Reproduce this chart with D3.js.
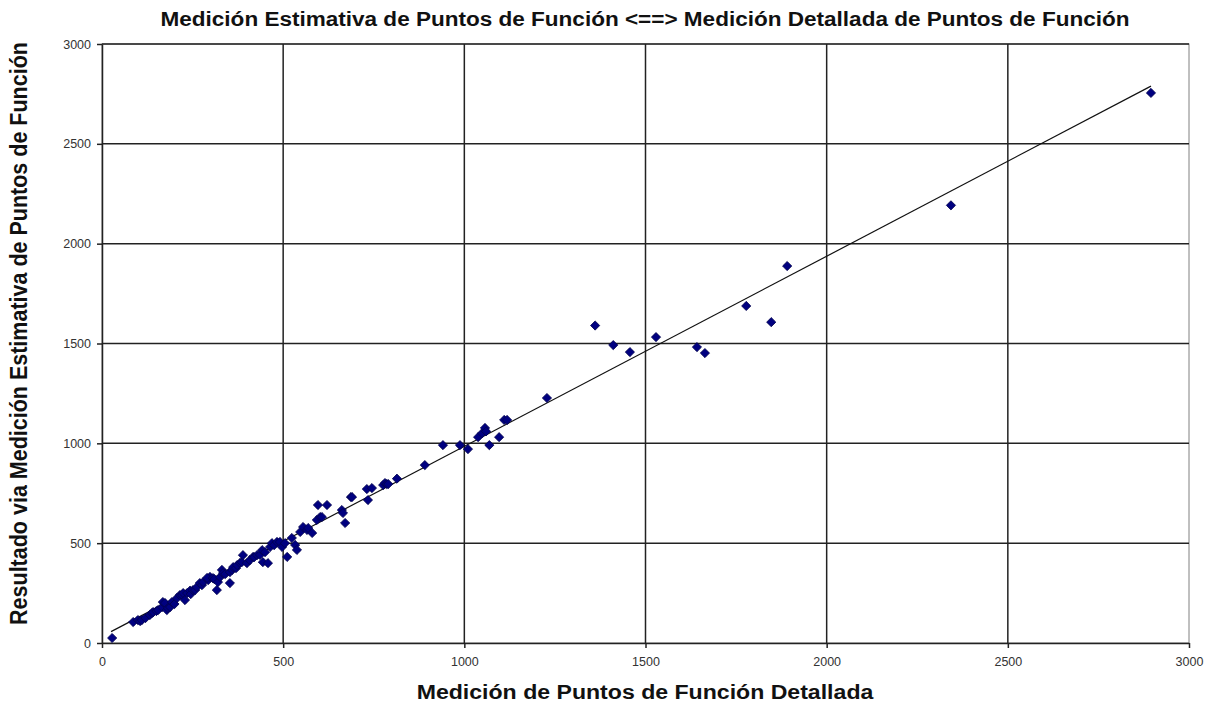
<!DOCTYPE html>
<html><head><meta charset="utf-8">
<script src="https://cdn.jsdelivr.net/npm/d3@7"></script>
<style>body{margin:0;background:#fff}svg{display:block}</style>
</head><body>
<script>
const titleText = "Medición Estimativa de Puntos de Función <==> Medición Detallada de Puntos de Función";
const xTitle = "Medición de Puntos de Función Detallada";
const yTitle = "Resultado via Medición Estimativa de Puntos de Función";
const xTicks = [0, 500, 1000, 1500, 2000, 2500, 3000];
const yTicks = [0, 500, 1000, 1500, 2000, 2500, 3000];
const detailed = [28, 86, 99, 105, 110, 120, 132, 138, 141, 150, 155, 166, 168, 174, 179, 182, 188, 193, 200, 207, 215, 221, 224, 229, 235, 243, 245, 251, 257, 262, 270, 276, 279, 293, 298, 290, 306, 310, 317, 320, 326, 331, 334, 340, 353, 353, 359, 362, 370, 373, 381, 386, 389, 400, 408, 417, 420, 428, 436, 442, 444, 450, 458, 464, 469, 475, 483, 491, 497, 505, 511, 524, 533, 538, 547, 555, 566, 569, 580, 593, 596, 602, 607, 621, 662, 665, 671, 687, 690, 731, 734, 745, 776, 781, 786, 790, 814, 891, 941, 988, 1010, 1038, 1049, 1057, 1060, 1069, 1096, 1110, 1118, 1228, 1361, 1411, 1457, 1529, 1642, 1664, 1778, 1847, 1891, 2343, 2895];
const estimated = [25, 105, 115, 110, 115, 125, 140, 150, 155, 160, 165, 180, 205, 200, 165, 175, 180, 205, 195, 225, 240, 240, 250, 215, 250, 262, 245, 265, 265, 280, 300, 290, 305, 315, 331, 326, 325, 320, 265, 305, 330, 366, 350, 345, 300, 355, 366, 380, 375, 390, 401, 405, 440, 400, 415, 431, 430, 440, 441, 465, 405, 455, 400, 481, 500, 490, 506, 506, 481, 500, 431, 526, 491, 466, 556, 581, 566, 576, 551, 616, 691, 631, 631, 691, 666, 651, 601, 731, 731, 771, 716, 776, 791, 801, 796, 796, 823, 891, 991, 991, 971, 1031, 1051, 1077, 1060, 991, 1031, 1117, 1117, 1227, 1590, 1492, 1457, 1532, 1482, 1452, 1688, 1607, 1888, 2192, 2755];
const trendX = [25, 2895];
const trendY = [57, 2789];

const W = 1219, H = 710;
const L = 102, R = 1189, T = 44, B = 643;
const FONT = "Liberation Sans, Arial, sans-serif";
const svg = d3.select("body").append("svg").attr("width", W).attr("height", H);
const x = d3.scaleLinear().domain([0, 3000]).range([L, R]);
const y = d3.scaleLinear().domain([0, 3000]).range([B, T]);

svg.append("rect").attr("x", L).attr("y", T).attr("width", R - L).attr("height", B - T)
  .attr("fill", "#fff").attr("stroke", "#808080").attr("stroke-width", 1);

// grid
svg.append("g").selectAll("line").data(yTicks.slice(1)).join("line")
  .attr("x1", L).attr("x2", R).attr("y1", d => y(d)).attr("y2", d => y(d))
  .attr("stroke", "#222").attr("stroke-width", 1.5);
svg.append("g").selectAll("line").data(xTicks.slice(1, -1)).join("line")
  .attr("y1", T).attr("y2", B).attr("x1", d => x(d)).attr("x2", d => x(d))
  .attr("stroke", "#222").attr("stroke-width", 1.5);

const fmt = d3.format("d");
const xAxis = svg.append("g").attr("transform", `translate(0,${B})`)
  .call(d3.axisBottom(x).tickValues(xTicks).tickFormat(fmt).tickSize(5).tickPadding(9).tickSizeOuter(0));
const yAxis = svg.append("g").attr("transform", `translate(${L},0)`)
  .call(d3.axisLeft(y).tickValues(yTicks).tickFormat(fmt).tickSize(5).tickPadding(6).tickSizeOuter(0));
[xAxis, yAxis].forEach(g => {
  g.select(".domain").attr("stroke", "#222").attr("stroke-width", 1.5);
  g.selectAll(".tick line").attr("stroke", "#222").attr("stroke-width", 1.5);
  g.selectAll("text").attr("font-family", FONT).attr("font-size", 12.5).attr("fill", "#333");
});

// trend line
svg.append("line")
  .attr("x1", x(trendX[0])).attr("y1", y(trendY[0]))
  .attr("x2", x(trendX[1])).attr("y2", y(trendY[1]))
  .attr("stroke", "#111").attr("stroke-width", 1.2);

// points (square diamonds)
const r = 4.6;
const diamondPath = `M0,${-r}L${r},0L0,${r}L${-r},0Z`;
svg.append("g").selectAll("path").data(detailed.map((d, i) => [d, estimated[i]])).join("path")
  .attr("d", diamondPath)
  .attr("transform", d => `translate(${x(d[0])},${y(d[1])})`)
  .attr("fill", "#000080").attr("stroke", "#00004a").attr("stroke-width", 0.8);

const sx = 1.1;
svg.append("text").attr("transform", `translate(645,26) scale(${sx},1)`).attr("text-anchor", "middle")
  .attr("font-family", FONT).attr("font-weight", "bold")
  .attr("font-size", 20.5).attr("fill", "#111").text(titleText);
svg.append("text").attr("transform", `translate(645,699) scale(${sx},1)`).attr("text-anchor", "middle")
  .attr("font-family", FONT).attr("font-weight", "bold")
  .attr("font-size", 21).attr("fill", "#111").text(xTitle);
svg.append("text").attr("transform", `translate(27,${(T + B) / 2 - 10}) rotate(-90) scale(1,${sx})`).attr("text-anchor", "middle")
  .attr("font-family", FONT).attr("font-weight", "bold")
  .attr("font-size", 21.5).attr("fill", "#111").text(yTitle);
</script>
</body></html>
